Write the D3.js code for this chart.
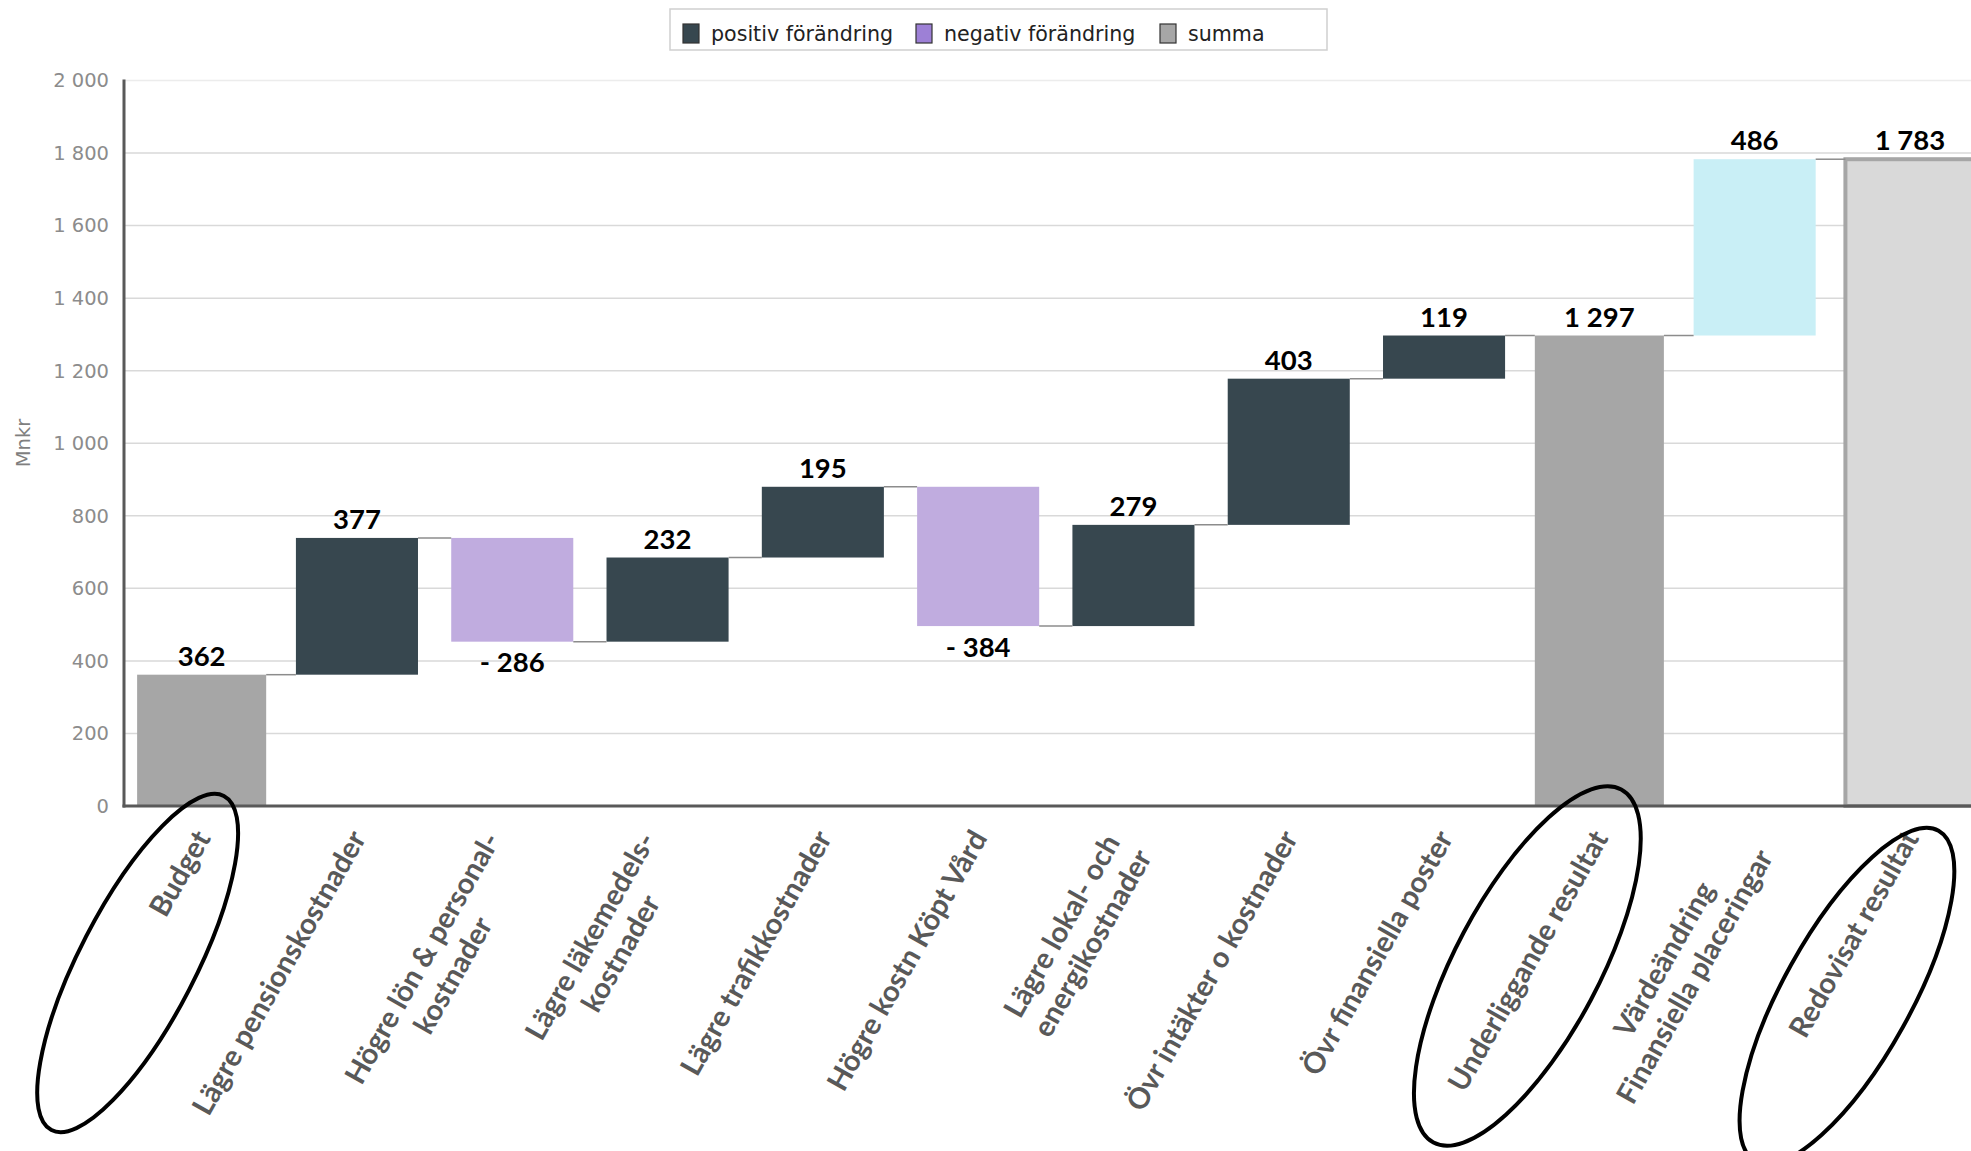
<!DOCTYPE html>
<html><head><meta charset="utf-8">
<script src="https://cdn.jsdelivr.net/npm/d3@7"></script>
<style>body{margin:0;background:#fff;overflow:hidden}</style>
</head><body><svg id="c" width="1971" height="1151"></svg>
<script>
// ---- data ----
const categories = [
  ["Budget"],
  ["Lägre pensionskostnader"],
  ["Högre lön & personal-", "kostnader"],
  ["Lägre läkemedels-", "kostnader"],
  ["Lägre trafikkostnader"],
  ["Högre kostn Köpt Vård"],
  ["Lägre lokal- och", "energikostnader"],
  ["Övr intäkter o kostnader"],
  ["Övr finansiella poster"],
  ["Underliggande resultat"],
  ["Värdeändring", "Finansiella placeringar"],
  ["Redovisat resultat"]
];
const values = [362, 377, -286, 232, 195, -384, 279, 403, 119, 1297, 486, 1783];
const kinds = ["sum", "pos", "neg", "pos", "pos", "neg", "pos", "pos", "pos", "sum", "value", "total"];
const yTicks = [0, 200, 400, 600, 800, 1000, 1200, 1400, 1600, 1800, 2000];
const legendLabels = ["positiv förändring", "negativ förändring", "summa"];
const legendKinds = ["pos", "neg", "sum"];
const yTitle = "Mnkr";

(function () {
// ---- styles ----
const fills = {sum: "#a6a6a6", pos: "#37474f", neg: "#c0acdf", value: "#c9eff6", total: "#d9d9d9"};
const legendFills = {pos: "#37474f", neg: "#9d80d6", sum: "#a6a6a6"};

const W = 1971;
const mLeft = 124, mBottom = 806, mTop = 80.5;
const step = 155.3;
const svg = d3.select("#c");

const loc = d3.formatLocale({decimal: ",", thousands: " ", grouping: [3], currency: ["", ""]});
const fmt = loc.format(",d");

const x = d3.scaleBand().domain(d3.range(categories.length)).range([mLeft, mLeft + step * categories.length])
  .paddingInner(0.214).paddingOuter(0.107);
const y = d3.scaleLinear().domain([0, 2000]).range([mBottom, mTop]);
const isSum = k => k === "sum" || k === "total";

// waterfall
let run = 0;
const bars = values.map((v, i) => {
  const k = kinds[i];
  let y0, y1;
  if (isSum(k)) { y0 = 0; y1 = v; run = v; }
  else { y0 = run; y1 = run + v; run = y1; }
  return {i, v, k, y0, y1, end: run};
});

// gridlines
svg.append("g").selectAll("line").data(yTicks.filter(d => d > 0)).join("line")
  .attr("x1", mLeft).attr("x2", W).attr("y1", d => y(d)).attr("y2", d => y(d))
  .attr("stroke", d => d === 2000 ? "#ececec" : "#d9d9d9").attr("stroke-width", 1.5);

// bars
svg.append("g").selectAll("rect").data(bars).join("rect")
  .attr("x", d => x(d.i) - (isSum(d.k) ? 3.5 : 0))
  .attr("width", d => x.bandwidth() + (isSum(d.k) ? 7 : 0))
  .attr("y", d => y(Math.max(d.y0, d.y1)))
  .attr("height", d => Math.abs(y(d.y0) - y(d.y1)))
  .attr("fill", d => fills[d.k])
  .attr("stroke", d => d.k === "total" ? "#a6a6a6" : "none")
  .attr("stroke-width", 4);

// connectors
svg.append("g").selectAll("line").data(bars.slice(0, -1)).join("line")
  .attr("x1", d => x(d.i) + x.bandwidth() + (isSum(d.k) ? 3.5 : 0))
  .attr("x2", d => x(d.i + 1) - (isSum(kinds[d.i + 1]) ? 3.5 : 0))
  .attr("y1", d => y(d.end)).attr("y2", d => y(d.end))
  .attr("stroke", "#8c8c8c").attr("stroke-width", 1.5);

// axes
svg.append("line").attr("x1", mLeft).attr("x2", mLeft).attr("y1", mTop - 1).attr("y2", mBottom + 1.5)
  .attr("stroke", "#595959").attr("stroke-width", 3);
svg.append("line").attr("x1", mLeft - 1.5).attr("x2", W).attr("y1", mBottom).attr("y2", mBottom)
  .attr("stroke", "#595959").attr("stroke-width", 3);

// y tick labels
svg.append("g").selectAll("text").data(yTicks).join("text")
  .attr("x", 109).attr("y", d => y(d)).attr("dy", "0.35em")
  .attr("text-anchor", "end").attr("font-family", "DejaVu Sans").attr("font-size", 19.5)
  .attr("fill", "#8c8c8c").text(d => fmt(d));

// y title
svg.append("text").attr("transform", `translate(30,443) rotate(-90)`)
  .attr("text-anchor", "middle").attr("font-family", "DejaVu Sans").attr("font-size", 19.5)
  .attr("fill", "#7f7f7f").text(yTitle);

// value labels
svg.append("g").selectAll("text").data(bars).join("text")
  .attr("x", d => x(d.i) + x.bandwidth() / 2)
  .attr("y", d => d.v < 0 ? y(Math.min(d.y0, d.y1)) + 10 : y(Math.max(d.y0, d.y1)) - 9)
  .attr("dy", d => d.v < 0 ? "0.75em" : "0")
  .attr("text-anchor", "middle").attr("font-family", "Lato").attr("font-weight", 700)
  .attr("font-size", 27.5).attr("fill", "#000")
  .text(d => d.v < 0 ? "- " + fmt(-d.v) : fmt(d.v));

// x labels
const ang = -60.5, lh = 35;
const xl = svg.append("g");
categories.forEach((lines, i) => {
  const g = xl.append("g")
    .attr("transform", `translate(${x(i) + x.bandwidth() / 2 + 1},${mBottom + 27}) rotate(${ang})`);
  const ts = lines.map(t => g.append("text").attr("font-family", "Lato").attr("font-weight", 700)
    .attr("font-size", 29).attr("fill", "#595959").attr("dy", "0.35em").text(t));
  const widths = ts.map(t => t.node().getComputedTextLength());
  const Wm = d3.max(widths);
  const shift = lines.length > 1 ? -12 : 0;
  ts.forEach((t, j) => t.attr("text-anchor", "middle").attr("x", -Wm / 2 + shift)
    .attr("y", (j - (lines.length - 1) / 2) * lh));
});

// legend
const lg = svg.append("g");
lg.append("rect").attr("x", 670).attr("y", 9).attr("width", 657).attr("height", 41)
  .attr("fill", "#fff").attr("stroke", "#cfcfcf").attr("stroke-width", 1.5);
const lx = [683, 916, 1160];
legendLabels.forEach((t, i) => {
  lg.append("rect").attr("x", lx[i]).attr("y", 24).attr("width", 16).attr("height", 19)
    .attr("fill", legendFills[legendKinds[i]]).attr("stroke", "#333").attr("stroke-width", 1.2);
  lg.append("text").attr("x", lx[i] + 28).attr("y", 41).attr("font-family", "DejaVu Sans")
    .attr("font-size", 20.6).attr("fill", "#222").text(t);
});

// annotation ellipses
const ell = [
  {i: 0, dx: -64, dy: 157, a: 188, b: 58, r: -62.7},
  {i: 9, dx: -72, dy: 160, a: 200, b: 72, r: -62},
  {i: 11, dx: -63, dy: 190, a: 189, b: 64, r: -61}
];
svg.append("g").selectAll("ellipse").data(ell).join("ellipse")
  .attr("transform", d => `translate(${x(d.i) + x.bandwidth() / 2 + d.dx},${mBottom + d.dy}) rotate(${d.r})`)
  .attr("rx", d => d.a).attr("ry", d => d.b)
  .attr("fill", "none").attr("stroke", "#000").attr("stroke-width", 4);
})();
</script></body></html>
